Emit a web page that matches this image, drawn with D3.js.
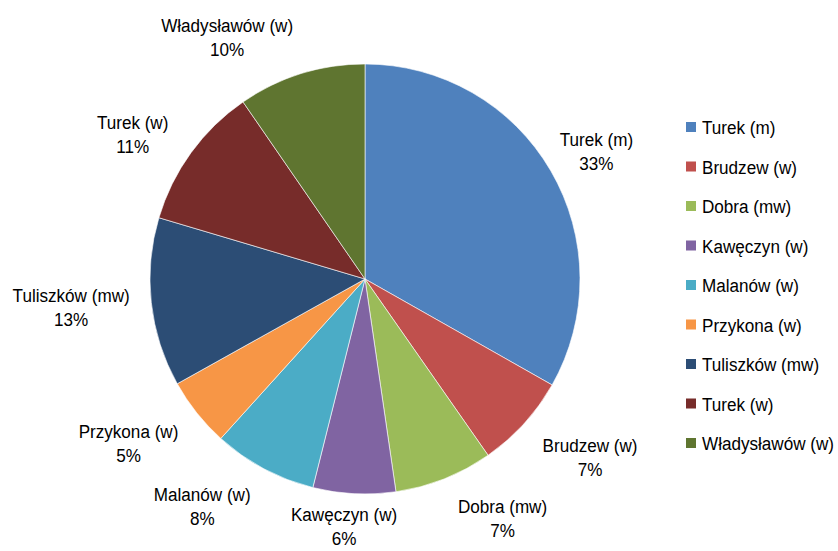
<!DOCTYPE html>
<html><head><meta charset="utf-8">
<script src="https://cdn.jsdelivr.net/npm/d3@7"></script>
<style>body{margin:0;background:#fff;}svg{display:block;font-family:"Liberation Sans",Arial,sans-serif;}</style>
</head><body>
<svg id="chart" width="838" height="551"></svg>
<script>
const categories = ["Turek (m)","Brudzew (w)","Dobra (mw)","Kawęczyn (w)","Malanów (w)","Przykona (w)","Tuliszków (mw)","Turek (w)","Władysławów (w)"];
const values = [33.2, 7.1, 7.4, 6.2, 7.8, 5.2, 12.7, 10.8, 9.6];
const colors = ["#4F81BD","#C0504D","#9BBB59","#8064A2","#4BACC6","#F79646","#2C4D75","#772C2A","#5F7530"];
// layout tweaks for data labels (px)
const labelNudge = [[7,-5],[25,11],[39,9],[-7,0],[-35,9],[-23,10],[-14,0],[-23,-1],[-52,-8]];

const svg = d3.select("#chart");
const cx = 365, cy = 279, r = 215;
const g = svg.append("g").attr("transform", `translate(${cx},${cy})`);
const total = d3.sum(values);
const pie = d3.pie().sort(null).value(d => d)(values);
const arc = d3.arc().innerRadius(0).outerRadius(r);

g.selectAll("path").data(pie).join("path")
  .attr("d", arc)
  .attr("fill", (d,i) => colors[i])
  .attr("stroke", "#fff").attr("stroke-width", 0.6);

const fs = 19, sx = 0.9;
function addText(parent, x, y, str, anchor) {
  return parent.append("text")
    .attr("transform", `translate(${x},${y}) scale(${sx},1)`)
    .attr("text-anchor", anchor).attr("font-size", fs).attr("fill", "#000").text(str);
}
const labels = g.selectAll("g.lab").data(pie).join("g").attr("class","lab");
labels.each(function(d,i){
  const sel = d3.select(this);
  const tmp = sel.append("text").attr("font-size",fs).text(categories[i]);
  const w = tmp.node().getComputedTextLength() * sx;
  tmp.remove();
  const h = 46;
  const a = (d.startAngle + d.endAngle)/2;
  const s = Math.sin(a), c = Math.cos(a);
  const R0 = r + 8;
  const px = s*R0 + s*w/2 + labelNudge[i][0];
  const py = -c*R0 - c*h/2 + labelNudge[i][1];
  addText(sel, px, py - 4, categories[i], "middle");
  addText(sel, px, py + 20, Math.round(d.data/total*100)+"%", "middle");
});

const legend = svg.append("g");
const ly = d3.scalePoint().domain(categories).range([127, 443]);
categories.forEach((c,i) => {
  legend.append("rect").attr("x",686).attr("y",ly(c)-5).attr("width",10).attr("height",10).attr("fill",colors[i]);
  addText(legend, 702, ly(c)+7, c, "start");
});
</script>
</body></html>
